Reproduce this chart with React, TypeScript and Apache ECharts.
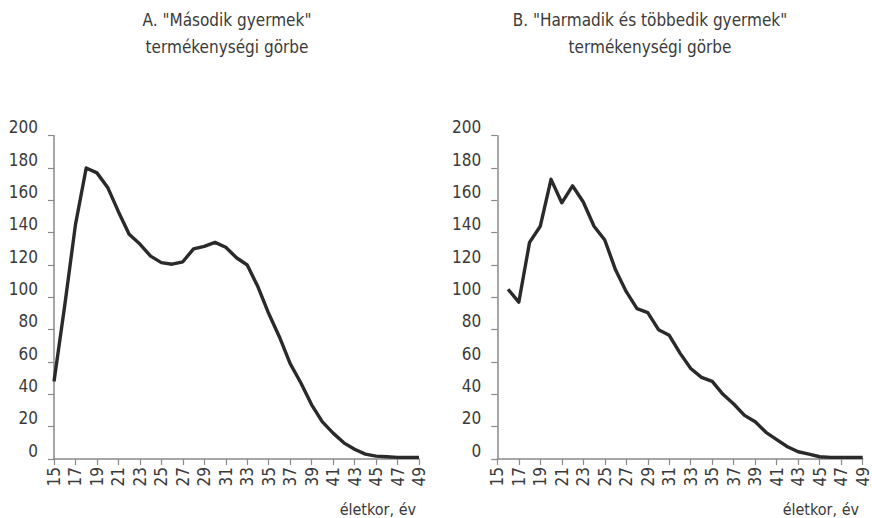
import React, { useEffect, useRef } from "react";
import * as echarts from "echarts";

const ages: string[] = [
  "15","16","17","18","19","20","21","22","23","24","25","26","27","28","29","30","31","32",
  "33","34","35","36","37","38","39","40","41","42","43","44","45","46","47","48","49",
];

// A. second child fertility curve (per 1000 women)
const secondChild: (number | null)[] = [
  48, 95, 145, 180, 177, 168, 153, 139, 133, 125.5, 121.5, 120.5, 122, 130, 131.5, 134, 131, 124.5,
  120, 106.5, 90, 75.5, 59, 47, 33.5, 23, 16, 10, 6, 3, 1.8, 1.4, 1, 1, 1,
];

// B. third and higher-order child fertility curve
const thirdPlusChild: (number | null)[] = [
  null, 105, 97, 134, 144, 173, 158.5, 169, 159, 144, 135.5, 117, 103.5, 93, 90.5, 80, 76.5, 65.5,
  56, 50.5, 48, 40, 34, 27, 23, 16.5, 12, 7.6, 4.5, 3, 1.4, 1, 1, 1, 1,
];

const yTicksMax = 200;
const yTicksStep = 20;

const titleA = ["A. \"Második gyermek\"", "termékenységi görbe"];
const titleB = ["B. \"Harmadik és többedik gyermek\"", "termékenységi görbe"];
const xAxisTitle = "életkor, év";

const FONT = "'Liberation Sans Narrow', 'DejaVu Sans Condensed', 'Roboto', sans-serif";
const TEXT = "#3a3a3a";
const AXIS = "#8a8a8a";
const LINE = "#2a2a2a";

export default function App() {
  const ref = useRef<HTMLDivElement>(null);

  useEffect(() => {
    if (!ref.current) return;
    const chart = echarts.init(ref.current, undefined, { renderer: "svg" });

    const grids = [
      { left: 54, top: 135.7, width: 365, height: 323.3 },
      { left: 497.3, top: 135.7, width: 365.4, height: 323.3 },
    ];

    const xAxis = [0, 1].map((i) => ({
      type: "category" as const,
      gridIndex: i,
      data: ages,
      boundaryGap: false,
      axisLine: { show: true, lineStyle: { color: AXIS, width: 1.5 } },
      axisTick: { show: true, interval: 1, length: 6, lineStyle: { color: AXIS, width: 1.2 } },
      axisLabel: {
        interval: 1,
        rotate: 90,
        margin: 8,
        color: TEXT,
        fontFamily: FONT,
        fontSize: 17,
      },
      splitLine: { show: false },
    }));

    const yAxis = [0, 1].map((i) => ({
      type: "value" as const,
      gridIndex: i,
      min: 0,
      max: yTicksMax,
      interval: yTicksStep,
      axisLine: { show: true, lineStyle: { color: AXIS, width: 1.5 } },
      axisTick: { show: true, length: 6, lineStyle: { color: AXIS, width: 1.2 } },
      axisLabel: {
        margin: 16,
        color: TEXT,
        fontFamily: FONT,
        fontSize: 17,
        verticalAlign: "bottom",
      },
      splitLine: { show: false },
    }));

    const mkSeries = (data: (number | null)[], i: number) => ({
      type: "line" as const,
      xAxisIndex: i,
      yAxisIndex: i,
      data,
      showSymbol: false,
      symbol: "none",
      connectNulls: false,
      lineStyle: { color: LINE, width: 3.4, join: "round" },
      itemStyle: { color: LINE },
    });

    const titleText = (lines: string[], x: number) =>
      lines.map((t, k) => ({
        type: "text" as const,
        x,
        y: 20 + k * 27,
        style: {
          text: t,
          fill: TEXT,
          font: `17px ${FONT}`,
          textAlign: "center",
          textVerticalAlign: "middle",
        },
      }));

    chart.setOption({
      animation: false,
      backgroundColor: "#ffffff",
      grid: grids,
      xAxis,
      yAxis,
      series: [mkSeries(secondChild, 0), mkSeries(thirdPlusChild, 1)],
      graphic: [
        ...titleText(titleA, 227),
        ...titleText(titleB, 650),
        {
          type: "text",
          x: 416,
          y: 509,
          style: {
            text: xAxisTitle,
            fill: TEXT,
            font: `16px ${FONT}`,
            textAlign: "right",
            textVerticalAlign: "middle",
          },
        },
        {
          type: "text",
          x: 859,
          y: 509,
          style: {
            text: xAxisTitle,
            fill: TEXT,
            font: `16px ${FONT}`,
            textAlign: "right",
            textVerticalAlign: "middle",
          },
        },
      ],
    });

    return () => chart.dispose();
  }, []);

  return (
    <div
      ref={ref}
      style={{ position: "fixed", left: 0, top: 0, width: 872, height: 518 }}
    />
  );
}
